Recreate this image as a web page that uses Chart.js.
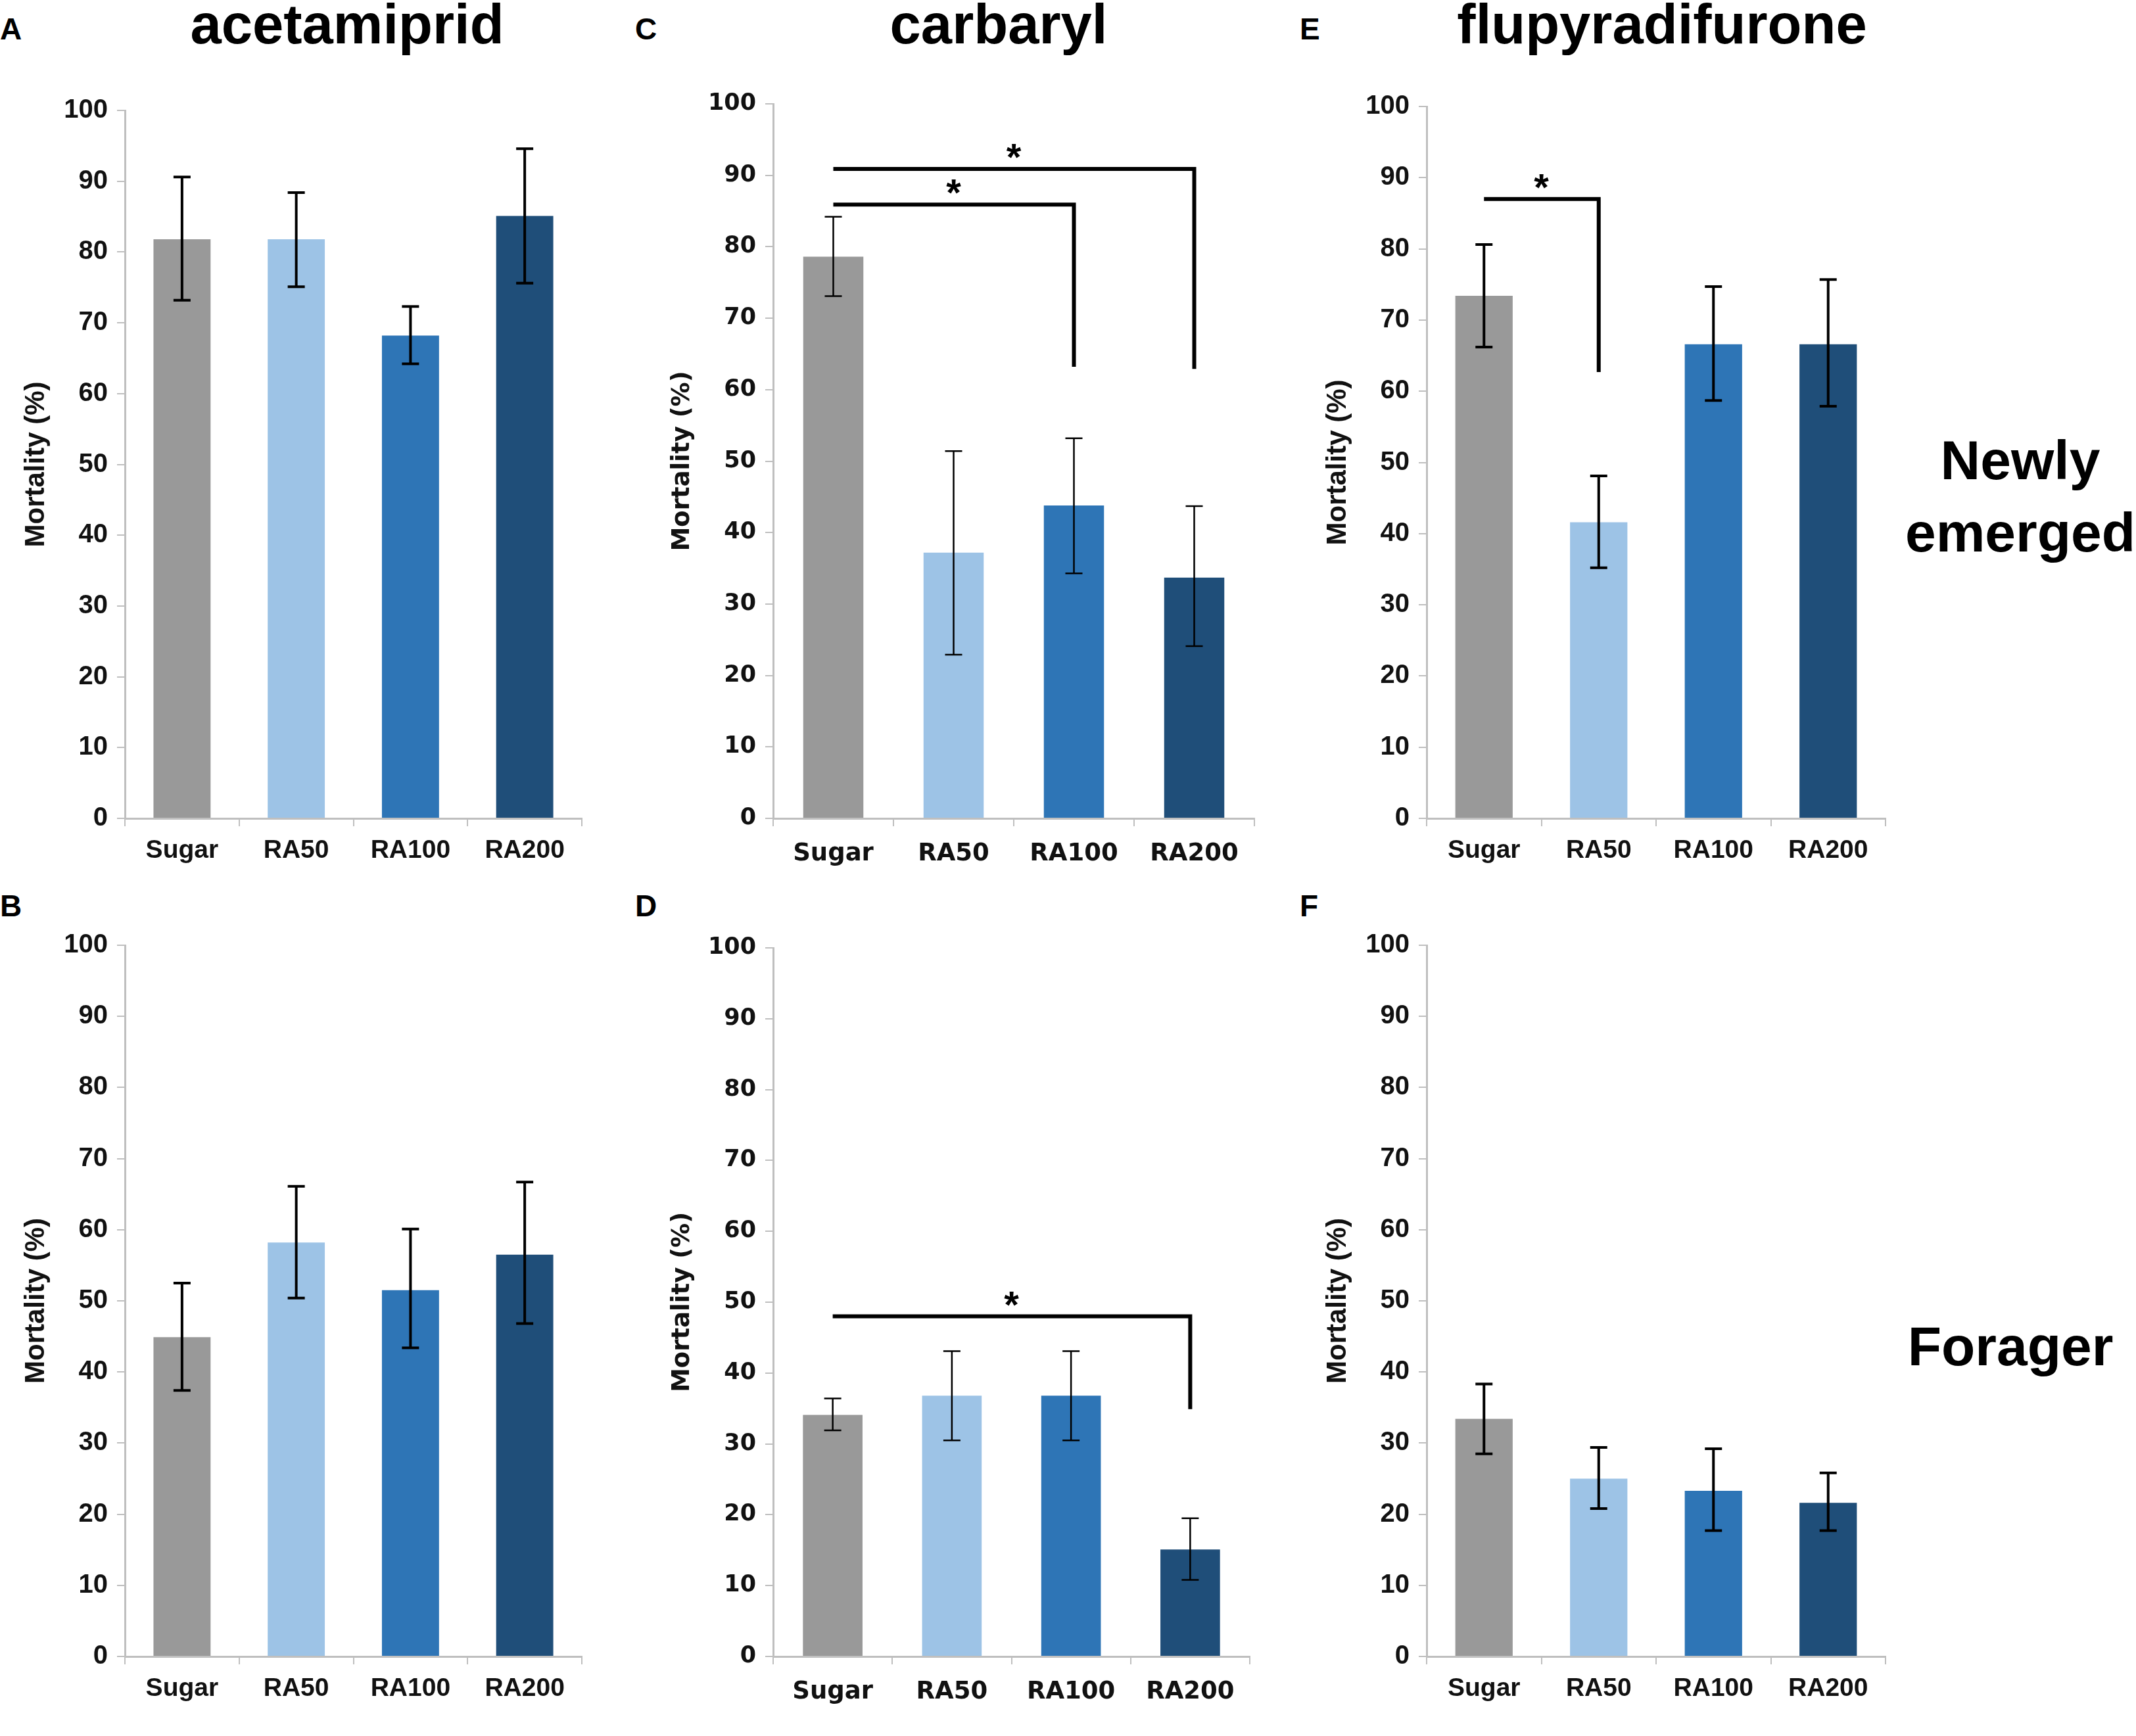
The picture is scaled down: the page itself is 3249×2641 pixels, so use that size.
<!DOCTYPE html>
<html>
<head>
<meta charset="utf-8">
<script src="https://cdn.jsdelivr.net/npm/chart.js@4.4.1/dist/chart.umd.min.js"></script>
<style>
  body { margin: 0; background: #fff; width: 3249px; height: 2641px; position: relative; overflow: hidden; }
  .panel { position: absolute; }
  .txt { position: absolute; font-family: "Liberation Sans", Arial, sans-serif; font-weight: bold; color: #000; white-space: nowrap; }
  .title { font-size: 85px; transform: translate(-50%, -50%); }
  .letter { font-size: 46px; transform: translate(0, -50%); }
  .side { font-size: 84px; transform: translate(-50%, -50%); }
</style>
</head>
<body>
<div class="txt letter" style="left:0px;top:44px">A</div>
<div class="txt letter" style="left:966px;top:44px">C</div>
<div class="txt letter" style="left:1977px;top:44px">E</div>
<div class="txt letter" style="left:0px;top:1378px">B</div>
<div class="txt letter" style="left:966px;top:1378px">D</div>
<div class="txt letter" style="left:1977px;top:1378px">F</div>
<div class="txt title" style="left:528px;top:37px">acetamiprid</div>
<div class="txt title" style="left:1519px;top:37px">carbaryl</div>
<div class="txt title" style="left:2528px;top:37px">flupyradifurone</div>
<div class="txt side" style="left:3073px;top:700px">Newly</div>
<div class="txt side" style="left:3073px;top:810px">emerged</div>
<div class="txt side" style="left:3058px;top:2048px">Forager</div>

<div class="panel" id="pA"><canvas id="cA"></canvas></div>
<div class="panel" id="pB"><canvas id="cB"></canvas></div>
<div class="panel" id="pC"><canvas id="cC"></canvas></div>
<div class="panel" id="pD"><canvas id="cD"></canvas></div>
<div class="panel" id="pE"><canvas id="cE"></canvas></div>
<div class="panel" id="pF"><canvas id="cF"></canvas></div>

<script>
const categories = ["Sugar", "RA50", "RA100", "RA200"];
const barColors = ["#999999", "#9dc3e6", "#2e75b6", "#1f4e79"];
const yTicks = [0, 10, 20, 30, 40, 50, 60, 70, 80, 90, 100];

// newly emerged bees
const acetNewly = [81.8, 81.8, 68.2, 85.1];
const acetNewlyLow = [73.2, 75.1, 64.2, 75.6];
const acetNewlyHigh = [90.6, 88.4, 72.3, 94.6];

const carbNewly = [78.6, 37.2, 43.8, 33.7];
const carbNewlyLow = [73.1, 22.9, 34.3, 24.1];
const carbNewlyHigh = [84.2, 51.4, 53.2, 43.7];

const flupNewly = [73.4, 41.6, 66.6, 66.6];
const flupNewlyLow = [66.2, 35.2, 58.7, 57.9];
const flupNewlyHigh = [80.6, 48.1, 74.7, 75.7];

// foragers
const acetForager = [44.9, 58.2, 51.5, 56.5];
const acetForagerLow = [37.4, 50.4, 43.4, 46.8];
const acetForagerHigh = [52.5, 66.1, 60.1, 66.7];

const carbForager = [34.1, 36.8, 36.8, 15.1];
const carbForagerLow = [31.9, 30.5, 30.5, 10.8];
const carbForagerHigh = [36.4, 43.1, 43.1, 19.5];

const flupForager = [33.4, 25.0, 23.3, 21.6];
const flupForagerLow = [28.5, 20.8, 17.7, 17.7];
const flupForagerHigh = [38.3, 29.4, 29.2, 25.8];

// significance brackets: from bar, to bar, line level, drop level
const carbNewlySig = [[0, 2, 85.9, 63.2], [0, 3, 90.9, 62.9]];
const flupNewlySig = [[0, 1, 87.0, 62.7]];
const carbForagerSig = [[0, 3, 48.0, 34.9]];

const errorBars = {
  id: "errorBars",
  afterDatasetsDraw(chart, args, opts) {
    const ctx = chart.ctx;
    const y = chart.scales.y;
    const meta = chart.getDatasetMeta(0);
    ctx.save();
    ctx.strokeStyle = "#000";
    ctx.lineWidth = opts.width;
    meta.data.forEach((bar, i) => {
      const top = y.getPixelForValue(opts.high[i]);
      const bot = y.getPixelForValue(opts.low[i]);
      ctx.beginPath();
      ctx.moveTo(bar.x, top); ctx.lineTo(bar.x, bot);
      ctx.moveTo(bar.x - opts.cap, top); ctx.lineTo(bar.x + opts.cap, top);
      ctx.moveTo(bar.x - opts.cap, bot); ctx.lineTo(bar.x + opts.cap, bot);
      ctx.stroke();
    });
    ctx.restore();
  }
};

const sigBrackets = {
  id: "sigBrackets",
  afterDatasetsDraw(chart, args, opts) {
    if (!opts.list) return;
    const ctx = chart.ctx;
    const y = chart.scales.y;
    const meta = chart.getDatasetMeta(0);
    ctx.save();
    ctx.strokeStyle = "#000";
    ctx.fillStyle = "#000";
    ctx.lineWidth = 6;
    ctx.font = "bold 58px 'Liberation Sans', Arial, sans-serif";
    ctx.textAlign = "center";
    ctx.textBaseline = "alphabetic";
    opts.list.forEach(s => {
      const x1 = meta.data[s[0]].x;
      const x2 = meta.data[s[1]].x;
      const yl = y.getPixelForValue(s[2]);
      const yd = y.getPixelForValue(s[3]);
      ctx.beginPath();
      ctx.moveTo(x1, yl); ctx.lineTo(x2, yl); ctx.lineTo(x2, yd);
      ctx.stroke();
      ctx.fillText("*", (x1 + x2) / 2, yl + 2);
    });
    ctx.restore();
  }
};

function makePanel(key, box, values, low, high, sig, font, sizes) {
  const yW = 170, xH = 96, padTop = 40, padRight = 14;
  const L = box.axis - yW, T = box.top - padTop;
  const W = box.right - L + padRight, H = box.bottom + xH - T;
  const div = document.getElementById("p" + key);
  div.style.left = L + "px"; div.style.top = T + "px";
  div.style.width = W + "px"; div.style.height = H + "px";

  new Chart(document.getElementById("c" + key), {
    type: "bar",
    data: {
      labels: categories,
      datasets: [{
        data: values,
        backgroundColor: barColors,
        barPercentage: 0.5,
        categoryPercentage: 1.0,
        borderWidth: 0
      }]
    },
    options: {
      responsive: true,
      maintainAspectRatio: false,
      animation: false,
      layout: { padding: { top: padTop, right: padRight, left: 0, bottom: 0 } },
      plugins: {
        legend: { display: false },
        tooltip: { enabled: false },
        errorBars: { low, high, width: sizes.err, cap: 13 },
        sigBrackets: { list: sig }
      },
      scales: {
        x: {
          afterFit: s => { s.height = xH; },
          grid: { offset: true, drawOnChartArea: false, drawTicks: true, tickLength: 12, color: "#bfbfbf", lineWidth: 2 },
          border: { display: true, color: "#bfbfbf", width: 3 },
          ticks: { color: "#111", padding: sizes.catPad, font: { family: font, weight: "bold", size: sizes.cat } }
        },
        y: {
          min: 0, max: 100,
          afterFit: s => { s.width = yW; },
          afterBuildTicks: s => { s.ticks = yTicks.map(v => ({ value: v })); },
          grid: { drawOnChartArea: false, drawTicks: true, tickLength: 12, color: "#bfbfbf", lineWidth: 2 },
          border: { display: true, color: "#bfbfbf", width: 3 },
          ticks: { color: "#111", padding: 14, font: { family: font, weight: "bold", size: sizes.tick } },
          title: {
            display: true, text: "Mortality (%)", color: "#111",
            padding: { top: sizes.titlePad, bottom: 0 },
            font: { family: font, weight: "bold", size: sizes.title }
          }
        }
      }
    },
    plugins: [errorBars, sigBrackets]
  });
}

const arial = "'Liberation Sans', Arial, sans-serif";
const wide = "'DejaVu Sans', Verdana, sans-serif";
const sizeA = { tick: 40, cat: 39, catPad: 14, title: 42, titlePad: 10, err: 4 };
const sizeC = { tick: 35, cat: 37, catPad: 20, title: 37, titlePad: 10, err: 2.5 };

makePanel("A", { axis: 190, right: 885, top: 168, bottom: 1245 }, acetNewly, acetNewlyLow, acetNewlyHigh, null, arial, sizeA);
makePanel("C", { axis: 1176, right: 1908, top: 158, bottom: 1245 }, carbNewly, carbNewlyLow, carbNewlyHigh, carbNewlySig, wide, sizeC);
makePanel("E", { axis: 2170, right: 2868, top: 162, bottom: 1245 }, flupNewly, flupNewlyLow, flupNewlyHigh, flupNewlySig, arial, sizeA);
makePanel("B", { axis: 190, right: 885, top: 1438, bottom: 2520 }, acetForager, acetForagerLow, acetForagerHigh, null, arial, sizeA);
makePanel("D", { axis: 1176, right: 1901, top: 1442, bottom: 2520 }, carbForager, carbForagerLow, carbForagerHigh, carbForagerSig, wide, sizeC);
makePanel("F", { axis: 2170, right: 2868, top: 1438, bottom: 2520 }, flupForager, flupForagerLow, flupForagerHigh, null, arial, sizeA);
</script>
</body>
</html>
